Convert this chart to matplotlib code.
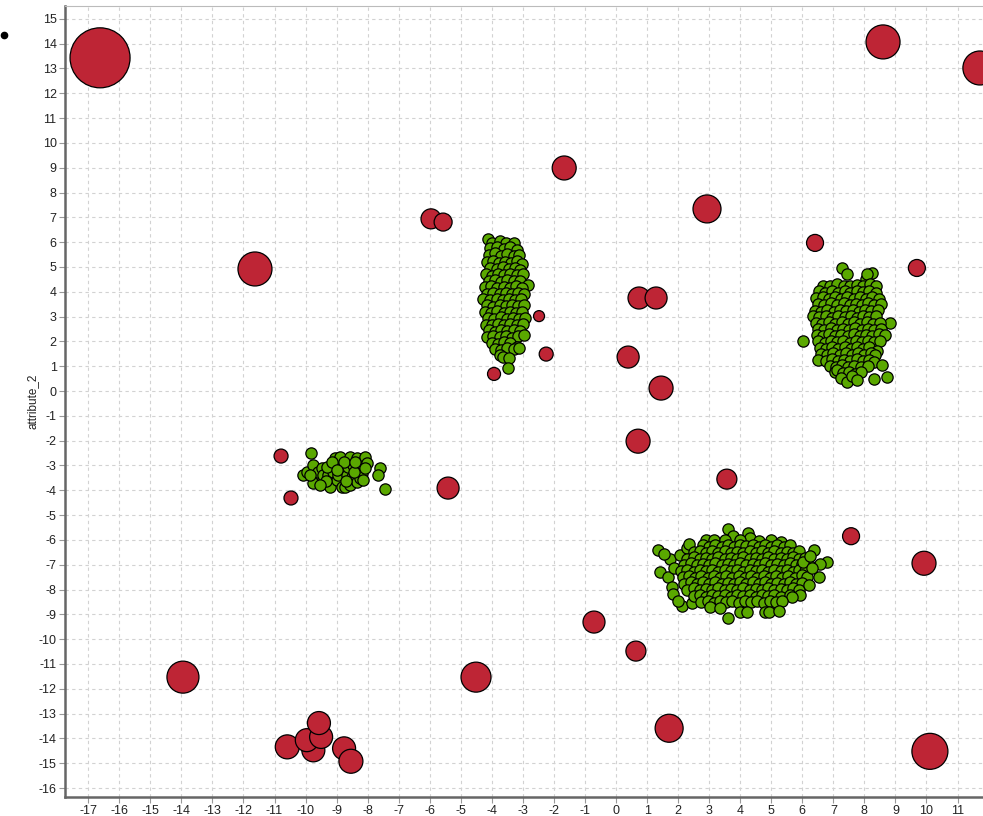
import matplotlib
matplotlib.use("Agg")
import matplotlib.pyplot as plt
from matplotlib.lines import Line2D

plt.rcParams['font.family'] = ['Liberation Sans', 'DejaVu Sans']
plt.rcParams['axes.unicode_minus'] = False

# outliers: (attribute_1, attribute_2, marker diameter in px)
outliers = [
    (-16.62, 13.43, 60), (8.60, 14.07, 34), (11.72, 13.02, 34), (-1.67, 8.99, 24),
    (2.93, 7.34, 28), (-5.96, 6.94, 20), (-5.57, 6.81, 18), (-11.63, 4.92, 34),
    (6.41, 5.97, 17), (9.69, 4.96, 17), (0.74, 3.75, 22), (1.29, 3.75, 22),
    (-2.48, 3.02, 11), (-2.25, 1.49, 14), (-3.93, 0.69, 13), (0.39, 1.37, 22),
    (1.45, 0.12, 24), (0.71, -2.02, 24), (-10.79, -2.62, 14), (-10.47, -4.31, 14),
    (-5.41, -3.91, 22), (3.57, -3.55, 20), (7.57, -5.85, 17), (9.92, -6.94, 24),
    (-0.71, -9.31, 22), (0.64, -10.48, 20), (-13.95, -11.53, 32), (-4.51, -11.53, 30),
    (1.71, -13.59, 28), (-10.59, -14.34, 24), (-9.75, -14.48, 23), (-9.96, -14.07, 23),
    (-9.50, -13.94, 23), (-9.57, -13.38, 23), (-8.76, -14.40, 23), (-8.54, -14.92, 24),
    (10.11, -14.52, 36),
]

cluster_a = [
    (-4.12, 6.12), (-3.98, 5.95), (-3.75, 6.05), (-3.55, 5.98), (-3.28, 5.96),
    (-4.05, 5.75), (-3.85, 5.82), (-3.62, 5.72), (-3.42, 5.80), (-3.20, 5.70),
    (-4.10, 5.48), (-3.90, 5.55), (-3.70, 5.45), (-3.50, 5.52), (-3.30, 5.45), (-3.12, 5.50),
    (-4.15, 5.20), (-3.95, 5.25), (-3.78, 5.15), (-3.58, 5.22), (-3.38, 5.18), (-3.18, 5.25), (-3.02, 5.12),
    (-4.05, 4.95), (-3.85, 4.90), (-3.65, 4.98), (-3.45, 4.92), (-3.25, 4.95), (-3.08, 4.88),
    (-4.20, 4.70), (-4.00, 4.65), (-3.80, 4.72), (-3.60, 4.66), (-3.40, 4.72), (-3.20, 4.68), (-3.00, 4.72),
    (-4.10, 4.42), (-3.90, 4.48), (-3.70, 4.40), (-3.50, 4.46), (-3.30, 4.42), (-3.10, 4.45), (-2.85, 4.28),
    (-4.22, 4.18), (-4.02, 4.22), (-3.82, 4.15), (-3.62, 4.20), (-3.42, 4.16), (-3.22, 4.22), (-3.02, 4.15),
    (-4.15, 3.92), (-3.95, 3.97), (-3.75, 3.90), (-3.55, 3.95), (-3.35, 3.90), (-3.15, 3.96), (-2.95, 3.90),
    (-4.27, 3.70), (-4.05, 3.65), (-3.85, 3.72), (-3.65, 3.66), (-3.45, 3.72), (-3.25, 3.66), (-3.05, 3.70),
    (-4.15, 3.45), (-3.95, 3.40), (-3.75, 3.47), (-3.55, 3.42), (-3.35, 3.46), (-3.15, 3.42), (-2.95, 3.45),
    (-4.22, 3.20), (-4.02, 3.15), (-3.82, 3.22), (-3.62, 3.16), (-3.42, 3.20), (-3.22, 3.15), (-3.02, 3.20),
    (-4.12, 2.95), (-3.92, 2.90), (-3.72, 2.97), (-3.52, 2.92), (-3.32, 2.96), (-3.12, 2.90), (-2.92, 2.95),
    (-4.20, 2.68), (-4.00, 2.65), (-3.80, 2.72), (-3.60, 2.66), (-3.40, 2.70), (-3.20, 2.65), (-3.00, 2.70),
    (-4.10, 2.45), (-3.90, 2.40), (-3.70, 2.47), (-3.50, 2.42), (-3.30, 2.46), (-3.10, 2.42),
    (-4.15, 2.18), (-3.95, 2.22), (-3.75, 2.16), (-3.55, 2.20), (-3.35, 2.15), (-3.15, 2.20), (-2.95, 2.25),
    (-4.00, 1.95), (-3.80, 1.90), (-3.60, 1.97), (-3.40, 1.92), (-3.20, 1.79),
    (-3.90, 1.70), (-3.70, 1.65), (-3.50, 1.72), (-3.30, 1.68), (-3.12, 1.72),
    (-3.75, 1.45), (-3.63, 1.38), (-3.44, 1.32), (-3.49, 0.94),
]

cluster_b = [
    (7.28, 4.97), (7.45, 4.72), (8.05, 4.50), (8.25, 4.75), (8.08, 4.72),
    (6.67, 4.22), (6.90, 4.25), (7.12, 4.30), (7.33, 4.24), (7.55, 4.22), (7.76, 4.28), (7.95, 4.25), (8.17, 4.30), (8.37, 4.22),
    (6.55, 4.02), (6.74, 3.95), (6.95, 4.05), (7.14, 3.97), (7.36, 4.03), (7.55, 3.95), (7.76, 4.04), (7.95, 3.98), (8.16, 4.05), (8.38, 3.96),
    (6.45, 3.74), (6.66, 3.80), (6.85, 3.70), (7.05, 3.78), (7.26, 3.72), (7.45, 3.80), (7.66, 3.71), (7.85, 3.78), (8.06, 3.72), (8.26, 3.79), (8.46, 3.70),
    (6.52, 3.50), (6.71, 3.45), (6.92, 3.54), (7.12, 3.46), (7.33, 3.53), (7.52, 3.45), (7.73, 3.52), (7.92, 3.46), (8.12, 3.54), (8.32, 3.47), (8.52, 3.50),
    (6.40, 3.24), (6.60, 3.20), (6.81, 3.28), (7.01, 3.20), (7.22, 3.27), (7.42, 3.21), (7.62, 3.28), (7.82, 3.20), (8.02, 3.26), (8.22, 3.22), (8.44, 3.28),
    (6.35, 3.04), (6.55, 2.97), (6.75, 3.03), (6.96, 2.96), (7.16, 3.04), (7.36, 2.97), (7.56, 3.03), (7.76, 2.95), (7.96, 3.02), (8.16, 2.97), (8.36, 3.03), (8.82, 2.74),
    (6.45, 2.75), (6.65, 2.70), (6.86, 2.78), (7.06, 2.71), (7.27, 2.77), (7.47, 2.70), (7.67, 2.78), (7.87, 2.71), (8.07, 2.77), (8.27, 2.70), (8.50, 2.76),
    (6.50, 2.50), (6.70, 2.45), (6.91, 2.53), (7.11, 2.46), (7.31, 2.52), (7.51, 2.45), (7.71, 2.53), (7.91, 2.46), (8.11, 2.52), (8.31, 2.46), (8.55, 2.50),
    (6.46, 2.26), (6.66, 2.20), (6.86, 2.28), (7.06, 2.20), (7.26, 2.27), (7.46, 2.21), (7.66, 2.28), (7.86, 2.20), (8.06, 2.27), (8.26, 2.21), (8.46, 2.28), (8.66, 2.24),
    (6.02, 2.02), (6.52, 2.00), (6.72, 1.95), (6.92, 2.03), (7.12, 1.96), (7.32, 2.02), (7.52, 1.95), (7.72, 2.03), (7.92, 1.96), (8.12, 2.02), (8.32, 1.96), (8.50, 2.02),
    (6.56, 1.75), (6.76, 1.70), (6.96, 1.78), (7.16, 1.70), (7.36, 1.77), (7.56, 1.71), (7.76, 1.78), (7.96, 1.70), (8.16, 1.77), (8.40, 1.60),
    (6.60, 1.50), (6.80, 1.45), (7.00, 1.53), (7.20, 1.46), (7.40, 1.52), (7.60, 1.45), (7.80, 1.53), (8.00, 1.46), (8.20, 1.52), (8.35, 1.45),
    (6.51, 1.25), (6.75, 1.22), (6.95, 1.28), (7.15, 1.20), (7.35, 1.27), (7.55, 1.21), (7.75, 1.28), (7.95, 1.20), (8.15, 1.26), (8.30, 1.18),
    (6.88, 1.00), (7.08, 0.96), (7.28, 1.03), (7.48, 0.95), (7.68, 1.02), (7.88, 0.96), (8.10, 1.00), (8.57, 1.05),
    (7.05, 0.75), (7.11, 0.85), (7.30, 0.72), (7.50, 0.78), (7.70, 0.70), (7.90, 0.76),
    (7.25, 0.52), (7.43, 0.38), (7.60, 0.60), (7.75, 0.44), (8.31, 0.48), (8.73, 0.56),
]

cluster_c = [
    (3.61, -5.56), (3.77, -5.83), (4.25, -5.73), (4.32, -5.91), (2.90, -6.00), (3.16, -6.00),
    (3.50, -6.02), (4.00, -6.00), (4.60, -6.05), (5.00, -6.02), (5.30, -6.10), (5.54, -6.33),
    (1.35, -6.41), (1.42, -7.30), (1.74, -6.77), (2.06, -6.61), (1.67, -7.49), (1.79, -7.89),
    (1.84, -8.19), (2.13, -8.67), (2.44, -8.55), (1.87, -7.14), (2.28, -6.33), (2.35, -6.17),
    (1.55, -6.55), (2.00, -8.45),
    (2.80, -6.22), (3.00, -6.28), (3.20, -6.20), (3.40, -6.27), (3.60, -6.21), (3.80, -6.29), (4.00, -6.20), (4.20, -6.26),
    (4.40, -6.22), (4.60, -6.29), (4.80, -6.20), (5.00, -6.27), (5.20, -6.21), (5.40, -6.28), (5.60, -6.22),
    (2.50, -6.50), (2.70, -6.45), (2.90, -6.53), (3.10, -6.46), (3.30, -6.52), (3.50, -6.45), (3.70, -6.53), (3.90, -6.47), (4.10, -6.52),
    (4.30, -6.45), (4.50, -6.53), (4.70, -6.46), (4.90, -6.52), (5.10, -6.45), (5.30, -6.53), (5.50, -6.47), (5.70, -6.52), (5.90, -6.46),
    (2.30, -6.76), (2.50, -6.70), (2.70, -6.78), (2.90, -6.71), (3.10, -6.77), (3.30, -6.70), (3.50, -6.78), (3.70, -6.72), (3.90, -6.77), (4.10, -6.70),
    (4.30, -6.78), (4.50, -6.71), (4.70, -6.77), (4.90, -6.70), (5.10, -6.78), (5.30, -6.72), (5.50, -6.77), (5.70, -6.70), (5.90, -6.78), (6.10, -6.72),
    (2.20, -7.00), (2.40, -6.95), (2.60, -7.03), (2.80, -6.96), (3.00, -7.02), (3.20, -6.95), (3.40, -7.03), (3.60, -6.97), (3.80, -7.02), (4.00, -6.95), (4.20, -7.03),
    (4.40, -6.96), (4.60, -7.02), (4.80, -6.95), (5.00, -7.03), (5.20, -6.97), (5.40, -7.02), (5.60, -6.95), (5.80, -7.03), (6.00, -6.96), (6.20, -7.02),
    (2.10, -7.26), (2.30, -7.20), (2.50, -7.28), (2.70, -7.21), (2.90, -7.27), (3.10, -7.20), (3.30, -7.28), (3.50, -7.22), (3.70, -7.27), (3.90, -7.20), (4.10, -7.28),
    (4.30, -7.21), (4.50, -7.27), (4.70, -7.20), (4.90, -7.28), (5.10, -7.22), (5.30, -7.27), (5.50, -7.20), (5.70, -7.28), (5.90, -7.21), (6.10, -7.26),
    (2.15, -7.50), (2.35, -7.45), (2.55, -7.53), (2.75, -7.46), (2.95, -7.52), (3.15, -7.45), (3.35, -7.53), (3.55, -7.47), (3.75, -7.52), (3.95, -7.45), (4.15, -7.53),
    (4.35, -7.46), (4.55, -7.52), (4.75, -7.45), (4.95, -7.53), (5.15, -7.47), (5.35, -7.52), (5.55, -7.45), (5.75, -7.53), (5.98, -7.42), (6.15, -7.50),
    (2.20, -7.76), (2.40, -7.70), (2.60, -7.78), (2.80, -7.71), (3.00, -7.77), (3.20, -7.70), (3.40, -7.78), (3.60, -7.72), (3.80, -7.77), (4.00, -7.70),
    (4.20, -7.78), (4.40, -7.71), (4.60, -7.77), (4.80, -7.70), (5.00, -7.78), (5.20, -7.72), (5.40, -7.77), (5.60, -7.70), (5.80, -7.78), (6.00, -7.72),
    (2.30, -8.00), (2.50, -7.95), (2.70, -8.03), (2.90, -7.96), (3.10, -8.02), (3.30, -7.95), (3.50, -8.03), (3.70, -7.97), (3.90, -8.02), (4.10, -7.95),
    (4.30, -8.03), (4.50, -7.96), (4.70, -8.02), (4.90, -7.95), (5.10, -8.03), (5.30, -7.97), (5.50, -8.02), (5.70, -7.95), (5.90, -8.03),
    (2.50, -8.26), (2.70, -8.20), (2.90, -8.28), (3.10, -8.21), (3.30, -8.27), (3.50, -8.20), (3.70, -8.28), (3.90, -8.22), (4.10, -8.27),
    (4.30, -8.20), (4.50, -8.28), (4.70, -8.21), (4.90, -8.27), (5.10, -8.20), (5.30, -8.28), (5.60, -8.23), (5.93, -8.23), (5.66, -8.29),
    (2.74, -8.51), (2.95, -8.48), (3.15, -8.53), (3.35, -8.46), (3.55, -8.52), (3.75, -8.45), (3.95, -8.53), (4.15, -8.47),
    (4.35, -8.52), (4.55, -8.45), (4.75, -8.53), (4.95, -8.47), (5.15, -8.52), (5.35, -8.45),
    (3.03, -8.70), (3.35, -8.75), (3.61, -9.15), (3.99, -8.91), (4.21, -8.90), (4.80, -8.91), (4.93, -8.91), (5.25, -8.87),
    (6.38, -6.41), (6.80, -6.90), (6.54, -7.50), (6.01, -6.88), (6.57, -6.98), (6.25, -6.65), (6.30, -7.15), (6.20, -7.80),
]

cluster_d = [
    (-9.83, -2.51), (-10.08, -3.39), (-9.96, -3.25), (-9.75, -2.98), (-9.69, -3.51), (-9.77, -3.72),
    (-9.59, -3.25), (-9.48, -3.10), (-9.44, -3.39), (-9.27, -3.39), (-9.21, -3.86), (-9.12, -3.25),
    (-9.05, -2.70), (-9.05, -2.98), (-9.00, -3.59), (-8.94, -3.39), (-8.89, -2.65), (-8.83, -3.10),
    (-8.83, -3.86), (-8.73, -3.86), (-8.67, -3.39), (-8.62, -3.05), (-8.57, -2.65), (-8.57, -3.79),
    (-8.51, -3.46), (-8.46, -2.98), (-8.35, -2.70), (-8.35, -3.66), (-8.31, -3.05), (-8.24, -3.52),
    (-8.19, -3.31), (-8.15, -3.59), (-8.08, -2.65), (-8.03, -2.90), (-7.60, -3.10), (-7.67, -3.39),
    (-7.44, -3.95), (-9.35, -3.62), (-9.55, -3.78), (-9.30, -3.05), (-9.15, -2.85), (-8.75, -2.85),
    (-8.45, -3.25), (-8.70, -3.62), (-9.00, -3.20), (-8.40, -2.85), (-8.10, -3.10), (-9.85, -3.40),
]

fig = plt.figure(figsize=(9.83, 8.16), dpi=100)
ax = fig.add_axes([0.0661, 0.0233, 0.9339, 0.9694])

green = '#5aa800'
red = '#be2535'
for pts in (cluster_a, cluster_b, cluster_c, cluster_d):
    ax.scatter([p[0] for p in pts], [p[1] for p in pts], s=66, c=green,
               edgecolors='black', linewidths=0.9, zorder=3)

ax.scatter([o[0] for o in outliers], [o[1] for o in outliers],
           s=[(o[2] * 0.72) ** 2 for o in outliers], c=red,
           edgecolors='black', linewidths=0.9, zorder=4)

ax.set_xlim(-17.75, 11.82)
ax.set_ylim(-16.36, 15.52)
ax.set_xticks(range(-17, 12))
ax.set_yticks(range(-16, 16))
ax.grid(True, color='#d2d2d2', linestyle=(0, (3, 3)), linewidth=0.8)
ax.set_axisbelow(True)
ax.tick_params(direction='out', length=4, width=0.8, color='#999999',
               labelsize=9, labelcolor='#222222', pad=2)
ax.set_ylabel('attribute_2', fontsize=8.5, color='#222222', labelpad=0)

for side in ('left', 'bottom'):
    ax.spines[side].set_color('#666666')
    ax.spines[side].set_linewidth(1.8)
ax.spines['right'].set_visible(False)
ax.spines['top'].set_color('#bbbbbb')
ax.spines['top'].set_linewidth(0.8)

fig.add_artist(Line2D([4 / 983], [1 - 35 / 816], marker='o', markersize=4.5,
                      color='black', transform=fig.transFigure))

fig.savefig('out.png', dpi=100)
